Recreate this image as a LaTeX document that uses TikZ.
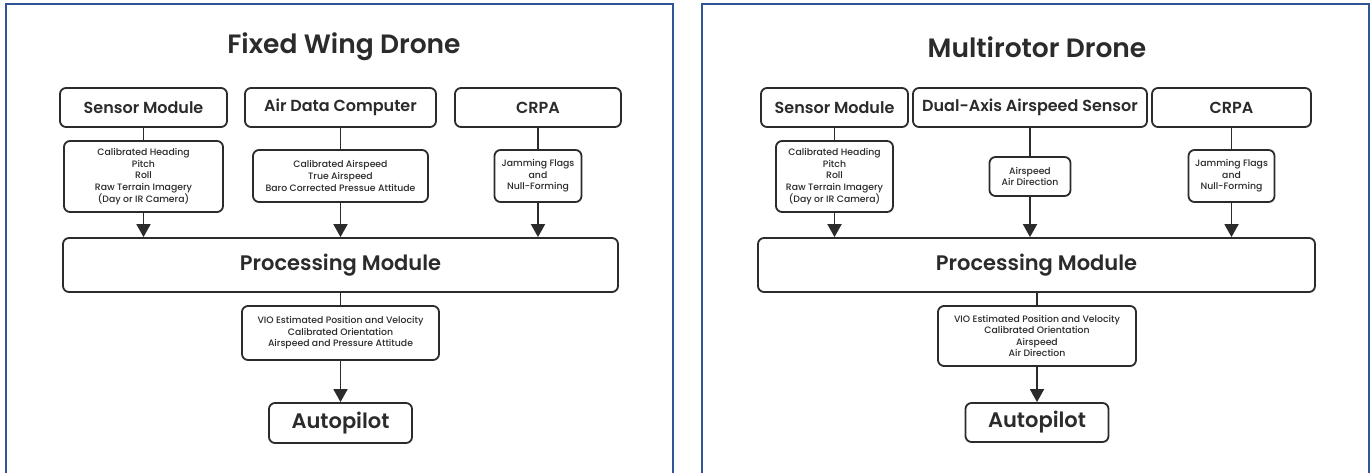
\documentclass[tikz,border=0pt]{standalone}
\usepackage{fontspec}
\IfFontExistsTF{Poppins SemiBold}
  {\setmainfont{Poppins}[BoldFont={Poppins SemiBold}]}
  {\setmainfont{Poppins}}
\IfFontExistsTF{Poppins Medium}
  {\newfontfamily\datafont{Poppins Medium}}
  {\newfontfamily\datafont{Poppins}}
\usetikzlibrary{arrows.meta}
\definecolor{panelblue}{HTML}{2F5597}
\definecolor{ink}{HTML}{2B2B2B}
\tikzset{
  box/.style={draw=ink, line width=1.8pt, rounded corners=6pt, fill=white,
    inner sep=0pt, align=center, text=ink},
  bigbox/.style={box, font=\fontsize{16}{19}\selectfont\bfseries},
  databox/.style={box, font=\datafont\fontsize{9.3}{11.6}\selectfont},
  titletext/.style={font=\fontsize{26.5}{30}\selectfont\bfseries, text=ink, inner sep=0pt},
  link/.style={draw=ink, line width=1.8pt},
  arr/.style={link, -{Triangle[width=14pt,length=13pt]}},
  panel/.style={draw=panelblue, line width=2pt}
}
\begin{document}
\begin{tikzpicture}[x=1pt,y=-1pt]
\useasboundingbox[fill=white] (0,0) rectangle (1372,473);
% panels
\draw[panel] (6,476) -- (6,4) -- (673,4) -- (673,476);
\draw[panel] (702,476) -- (702,4) -- (1369,4) -- (1369,476);

% ===== Left: Fixed Wing Drone =====
\node[titletext] (t1) at (344,47) {Fixed Wing Drone};
\node[bigbox, minimum width=167pt, minimum height=39pt] (sm1) at (143.5,107.5) {Sensor Module};
\node[bigbox, minimum width=191pt, minimum height=39pt] (adc) at (340.5,107.5) {Air Data Computer};
\node[bigbox, minimum width=166pt, minimum height=39pt] (cr1) at (538,107.5) {CRPA};
\node[databox, minimum width=159pt, minimum height=71pt] (d1) at (143.5,176.5)
  {Calibrated Heading\\Pitch\\Roll\\Raw Terrain Imagery\\(Day or IR Camera)};
\node[databox, minimum width=175pt, minimum height=52pt] (d2) at (340.5,176)
  {Calibrated Airspeed\\True Airspeed\\Baro Corrected Pressue Attitude};
\node[databox, minimum width=87pt, minimum height=52pt] (d3) at (538,176)
  {Jamming Flags\\and\\Null-Forming};
\node[box, font=\fontsize{21}{25}\selectfont\bfseries, minimum width=555pt, minimum height=54pt] (pm1) at (340.5,265) {Processing Module};
\node[databox, minimum width=197pt, minimum height=54pt] (o1) at (340.5,333)
  {VIO Estimated Position and Velocity\\Calibrated Orientation\\Airspeed and Pressure Attitude};
\node[box, font=\fontsize{21}{25}\selectfont\bfseries, minimum width=143pt, minimum height=40pt] (ap1) at (340.5,423) {Autopilot};

\draw[link] (sm1.south) -- (d1.north);
\draw[link] (adc.south) -- (d2.north);
\draw[link] (cr1.south) -- (d3.north);
\draw[arr] (d1.south) -- (d1.south |- pm1.north);
\draw[arr] (d2.south) -- (d2.south |- pm1.north);
\draw[arr] (d3.south) -- (d3.south |- pm1.north);
\draw[link] (o1.north |- pm1.south) -- (o1.north);
\draw[arr] (o1.south) -- (ap1.north);

% ===== Right: Multirotor Drone =====
\node[titletext] (t2) at (1037,47) {Multirotor Drone};
\node[bigbox, minimum width=147pt, minimum height=39pt] (sm2) at (834.5,107.5) {Sensor Module};
\node[bigbox, minimum width=234pt, minimum height=39pt] (da) at (1030,107.5) {Dual-Axis Airspeed Sensor};
\node[bigbox, minimum width=159pt, minimum height=39pt] (cr2) at (1231.5,107.5) {CRPA};
\node[databox, minimum width=117pt, minimum height=71pt] (d4) at (834.5,176.5)
  {Calibrated Heading\\Pitch\\Roll\\Raw Terrain Imagery\\(Day or IR Camera)};
\node[databox, minimum width=81pt, minimum height=39pt] (d5) at (1030,176.5)
  {Airspeed\\Air Direction};
\node[databox, minimum width=86pt, minimum height=52pt] (d6) at (1231.5,176)
  {Jamming Flags\\and\\Null-Forming};
\node[box, font=\fontsize{21}{25}\selectfont\bfseries, minimum width=557pt, minimum height=54pt] (pm2) at (1036.5,265) {Processing Module};
\node[databox, minimum width=198pt, minimum height=60pt] (o2) at (1037,336)
  {VIO Estimated Position and Velocity\\Calibrated Orientation\\Airspeed\\Air Direction};
\node[box, font=\fontsize{21}{25}\selectfont\bfseries, minimum width=143pt, minimum height=39pt] (ap2) at (1037,422.5) {Autopilot};

\draw[link] (sm2.south) -- (d4.north);
\draw[link] (da.south) -- (d5.north);
\draw[link] (cr2.south) -- (d6.north);
\draw[arr] (d4.south) -- (d4.south |- pm2.north);
\draw[arr] (d5.south) -- (d5.south |- pm2.north);
\draw[arr] (d6.south) -- (d6.south |- pm2.north);
\draw[link] (o2.north |- pm2.south) -- (o2.north);
\draw[arr] (o2.south) -- (ap2.north);
\end{tikzpicture}
\end{document}
